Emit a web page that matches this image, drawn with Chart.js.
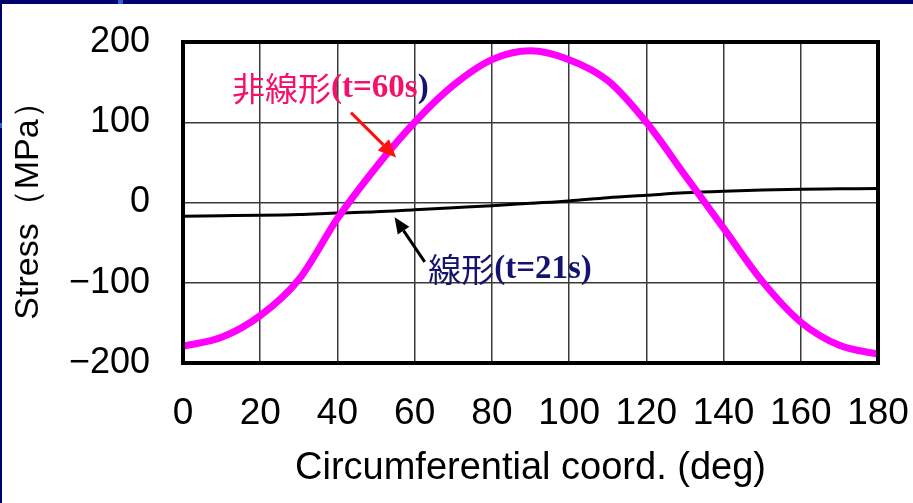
<!DOCTYPE html>
<html>
<head>
<meta charset="utf-8">
<script src="https://cdn.jsdelivr.net/npm/chart.js@4/dist/chart.umd.min.js"></script>
<style>
  html, body { margin: 0; padding: 0; background: #ffffff; }
  #wrap { position: relative; width: 913px; height: 503px; overflow: hidden; }
  canvas { display: block; }
</style>
</head>
<body>
<div id="wrap"><canvas id="chart" width="913" height="503"></canvas></div>
<script>
// Circumferential position (deg)
const angles = [0, 10, 20, 30, 40, 50, 60, 70, 80, 90, 100, 110, 120, 130, 140, 150, 160, 170, 180];
// Stress, nonlinear analysis at t = 60 s (MPa)
const nonlinearStress = [-179, -168, -141, -96, -20, 44, 100, 146, 178, 189, 178, 152, 100, 34, -32, -98, -149, -178, -189];
// Stress, linear analysis at t = 21 s (MPa)
const linearStress = [-17, -16.5, -16, -15, -13, -11.5, -9, -6.5, -4, -1, 2, 6, 9, 12, 14, 15.5, 16.5, 17, 17.5];

const xTickValues = [0, 20, 40, 60, 80, 100, 120, 140, 160, 180];
const yTickValues = [-200, -100, 0, 100, 200];

const xTitle = 'Circumferential coord. (deg)';
const yTitle = 'Stress（MPa）';

const nonlinearLabel = { jp: '非線形', paren: '(t=60s', close: ')' };
const linearLabel = { jp: '線形', paren: '(t=21s)' };

// Label anchors and arrows, given in data units (deg, MPa)
const nonlinearTextAt = [12.7, 142];
const nonlinearArrow = { from: [43.5, 112], to: [55.2, 56] };
const linearTextAt = [63.5, -84];
const linearArrow = { from: [62.6, -74], to: [54.8, -18.5] };

const PINK_TEXT = '#f5106b';
const NAVY_TEXT = '#14146e';
const SANS = "'Liberation Sans', Arial, sans-serif";
const SERIF = "'Liberation Serif', 'DejaVu Serif', serif";
const CJK = "'Noto Sans CJK JP', 'Noto Sans CJK SC', sans-serif";

function drawArrow(ctx, x0, y0, x1, y1, color, width, headLen, headW) {
  const ang = Math.atan2(y1 - y0, x1 - x0);
  const bx = x1 - headLen * Math.cos(ang);
  const by = y1 - headLen * Math.sin(ang);
  ctx.save();
  ctx.strokeStyle = color;
  ctx.fillStyle = color;
  ctx.lineWidth = width;
  ctx.beginPath();
  ctx.moveTo(x0, y0);
  ctx.lineTo(bx, by);
  ctx.stroke();
  ctx.beginPath();
  ctx.moveTo(x1, y1);
  ctx.lineTo(bx + headW / 2 * Math.sin(ang), by - headW / 2 * Math.cos(ang));
  ctx.lineTo(bx - headW / 2 * Math.sin(ang), by + headW / 2 * Math.cos(ang));
  ctx.closePath();
  ctx.fill();
  ctx.restore();
}

function zeroScalePadding(scale) {
  scale.paddingTop = 0;
  scale.paddingBottom = 0;
  scale.paddingLeft = 0;
  scale.paddingRight = 0;
}

const decorations = {
  id: 'decorations',
  beforeDraw(chart) {
    const ctx = chart.ctx;
    ctx.save();
    ctx.fillStyle = '#ffffff';
    ctx.fillRect(0, 0, chart.width, chart.height);
    ctx.fillStyle = '#00006e';
    ctx.fillRect(0, 0, chart.width, 4);
    ctx.fillRect(0, 0, 2, chart.height);
    ctx.fillStyle = '#2f5fd0';
    ctx.fillRect(118, 0, 5, 4);
    ctx.fillRect(0, 123, 2, 5);
    ctx.restore();
  },
  afterDatasetsDraw(chart) {
    const ctx = chart.ctx;
    const a = chart.chartArea;
    const xs = chart.scales.x, ys = chart.scales.y;
    const px = v => xs.getPixelForValue(v);
    const py = v => ys.getPixelForValue(v);

    // plot frame
    ctx.save();
    ctx.strokeStyle = '#000000';
    ctx.lineWidth = 4;
    ctx.strokeRect(a.left, a.top, a.right - a.left, a.bottom - a.top);
    ctx.restore();

    // nonlinear label
    ctx.save();
    ctx.textBaseline = 'middle';
    let x = px(nonlinearTextAt[0]);
    let y = py(nonlinearTextAt[1]);
    ctx.fillStyle = PINK_TEXT;
    ctx.font = '33px ' + CJK;
    ctx.fillText(nonlinearLabel.jp, x, y);
    x += ctx.measureText(nonlinearLabel.jp).width;
    ctx.font = 'bold 33px ' + SERIF;
    ctx.fillText(nonlinearLabel.paren, x, y);
    x += ctx.measureText(nonlinearLabel.paren).width;
    ctx.fillStyle = NAVY_TEXT;
    ctx.fillText(nonlinearLabel.close, x, y);

    // linear label
    x = px(linearTextAt[0]);
    y = py(linearTextAt[1]);
    ctx.fillStyle = NAVY_TEXT;
    ctx.font = '33px ' + CJK;
    ctx.fillText(linearLabel.jp, x, y);
    x += ctx.measureText(linearLabel.jp).width;
    ctx.font = 'bold 33px ' + SERIF;
    ctx.fillText(linearLabel.paren, x, y);
    ctx.restore();

    drawArrow(ctx, px(nonlinearArrow.from[0]), py(nonlinearArrow.from[1]),
      px(nonlinearArrow.to[0]), py(nonlinearArrow.to[1]), '#ff1010', 3, 18, 16);
    drawArrow(ctx, px(linearArrow.from[0]), py(linearArrow.from[1]),
      px(linearArrow.to[0]), py(linearArrow.to[1]), '#000000', 3, 16, 14);
  }
};

new Chart(document.getElementById('chart'), {
  type: 'line',
  data: {
    datasets: [
      {
        label: '非線形(t=60s)',
        data: angles.map((a, i) => ({ x: a, y: nonlinearStress[i] })),
        borderColor: '#ff00ff',
        borderWidth: 7,
        pointRadius: 0,
        cubicInterpolationMode: 'monotone',
        borderCapStyle: 'round',
        borderJoinStyle: 'round'
      },
      {
        label: '線形(t=21s)',
        data: angles.map((a, i) => ({ x: a, y: linearStress[i] })),
        borderColor: '#000000',
        borderWidth: 3,
        pointRadius: 0,
        cubicInterpolationMode: 'monotone'
      }
    ]
  },
  options: {
    responsive: false,
    devicePixelRatio: 1,
    animation: false,
    events: [],
    layout: { padding: { top: 42, right: 35, left: 0, bottom: 0 } },
    plugins: { legend: { display: false }, tooltip: { enabled: false } },
    scales: {
      x: {
        type: 'linear',
        min: 0,
        max: 180,
        afterBuildTicks(scale) { scale.ticks = xTickValues.map(v => ({ value: v })); },
        afterFit(scale) { scale.height = 140; zeroScalePadding(scale); },
        grid: { color: '#3a3a3a', lineWidth: 1.5, drawTicks: false },
        border: { display: false },
        ticks: {
          padding: 29,
          color: '#000000',
          maxRotation: 0,
          autoSkip: false,
          font: { family: SANS, size: 37 },
          callback: v => String(v)
        },
        title: {
          display: true,
          text: xTitle,
          color: '#000000',
          font: { family: SANS, size: 38 },
          padding: { top: 0, bottom: 12 }
        }
      },
      y: {
        type: 'linear',
        min: -200,
        max: 200,
        afterBuildTicks(scale) { scale.ticks = yTickValues.map(v => ({ value: v })); },
        afterFit(scale) { scale.width = 183; zeroScalePadding(scale); },
        grid: { color: '#3a3a3a', lineWidth: 1.5, drawTicks: false },
        border: { display: false },
        ticks: {
          padding: 33,
          color: '#000000',
          font: { family: SANS, size: 36 },
          callback: v => String(v).replace('-', '\u2212')
        },
        title: {
          display: true,
          text: yTitle,
          color: '#000000',
          font: { family: SANS, size: 34 },
          padding: { top: 8, bottom: 0 }
        }
      }
    }
  },
  plugins: [decorations]
});
</script>
</body>
</html>
